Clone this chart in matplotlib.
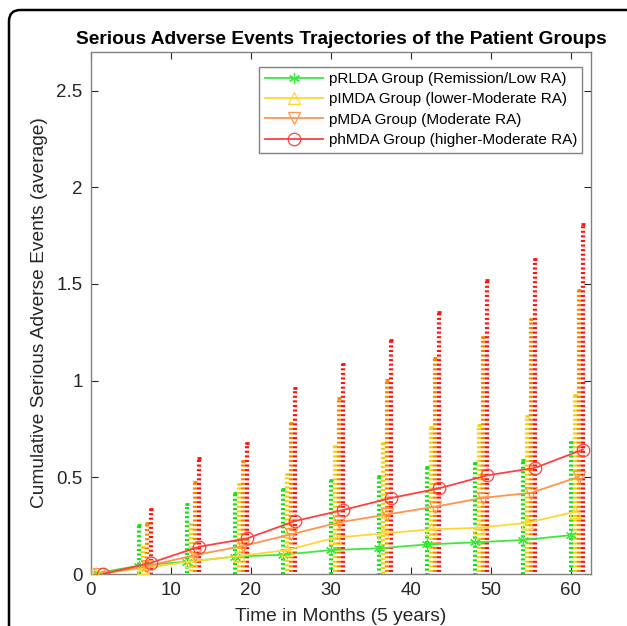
import matplotlib.pyplot as plt
from matplotlib.patches import FancyBboxPatch

plt.rcParams["font.family"] = ["Liberation Sans", "DejaVu Sans"]

months = [0, 6, 12, 18, 24, 30, 36, 42, 48, 54, 60]
groups = [
    "pRLDA Group (Remission/Low RA)",
    "pIMDA Group (lower-Moderate RA)",
    "pMDA Group (Moderate RA)",
    "phMDA Group (higher-Moderate RA)",
]

# average cumulative SAEs per group
mean_rlda = [0, 0.043, 0.064, 0.090, 0.100, 0.124, 0.133, 0.153, 0.164, 0.176, 0.201]
mean_lmda = [0, 0.030, 0.065, 0.093, 0.124, 0.188, 0.210, 0.231, 0.239, 0.265, 0.322]
mean_mda = [0, 0.040, 0.098, 0.145, 0.205, 0.267, 0.308, 0.348, 0.394, 0.420, 0.503]
mean_hmda = [0, 0.058, 0.141, 0.184, 0.274, 0.331, 0.393, 0.443, 0.510, 0.549, 0.644]

# upper end of the error bars
top_rlda = [0, 0.253, 0.362, 0.417, 0.439, 0.486, 0.508, 0.551, 0.572, 0.592, 0.683]
top_lmda = [0, 0.141, 0.257, 0.468, 0.516, 0.661, 0.678, 0.758, 0.770, 0.818, 0.925]
top_mda = [0, 0.262, 0.474, 0.585, 0.783, 0.911, 1.002, 1.119, 1.226, 1.317, 1.467]
top_hmda = [0, 0.334, 0.600, 0.678, 0.964, 1.085, 1.212, 1.355, 1.519, 1.630, 1.811]

means = [mean_rlda, mean_lmda, mean_mda, mean_hmda]
tops = [top_rlda, top_lmda, top_mda, top_hmda]
offsets = [0, 0.5, 1.0, 1.5]
line_colors = ["#3ee83e", "#ffd633", "#ff944d", "#ff4040"]
bar_colors = ["#11e011", "#ffcc00", "#ff8000", "#ff1010"]
markers = [(6, 2, 0), "^", "v", "o"]

fig = plt.figure(figsize=(6.27, 6.26), dpi=100)
ax = fig.add_axes([0.145, 0.083, 0.7975, 0.834])

# error bars first, then the mean lines on top
for m, t, off, bc in zip(means, tops, offsets, bar_colors):
    x = [mo + off for mo in months]
    err = [tt - mm for tt, mm in zip(t, m)]
    eb = ax.errorbar(x, m, yerr=err, fmt="none", ecolor=bc, elinewidth=3,
                     capsize=1.2, capthick=2, zorder=2)
    eb[2][0].set_linestyle((0, (0.5, 0.6)))

for m, off, lc, mk, name in zip(means, offsets, line_colors, markers, groups):
    x = [mo + off for mo in months]
    ms = 8 if mk == markers[0] else 9
    ax.plot(x, m, color=lc, lw=1.3, marker=mk, markersize=ms,
            markerfacecolor="none", markeredgecolor=lc, markeredgewidth=0.9,
            label=name, zorder=3)

ax.set_xlim(0, 62.5)
ax.set_ylim(0, 2.7)
ax.set_xticks([0, 10, 20, 30, 40, 50, 60])
ax.set_yticks([0, 0.5, 1, 1.5, 2, 2.5])
ax.set_yticklabels(["0", "0.5", "1", "1.5", "2", "2.5"])
ax.tick_params(direction="in", top=True, right=True, length=5, width=0.8,
               labelsize=13.5, colors="#262626", pad=6)
for s in ax.spines.values():
    s.set_color("#808080")
    s.set_linewidth(1)

ax.set_title("Serious Adverse Events Trajectories of the Patient Groups",
             fontsize=13.8, fontweight="bold", pad=6)
ax.set_xlabel("Time in Months (5 years)", fontsize=13.8, color="#262626", labelpad=6)
ax.set_ylabel("Cumulative Serious Adverse Events (average)", fontsize=13.8,
              color="#262626", labelpad=6)

leg = ax.legend(loc="upper right", bbox_to_anchor=(0.983, 0.972), fontsize=11,
                fancybox=False, framealpha=1, edgecolor="#808080",
                handlelength=3.8, labelspacing=0.42, borderpad=0.35,
                handletextpad=0.4, borderaxespad=0)
leg.get_frame().set_linewidth(1)

# rounded frame of the published figure
frame = FancyBboxPatch((9 / 627, -0.1), 640 / 627, 1.1 - 10 / 626,
                       boxstyle="round,pad=0,rounding_size=0.018",
                       transform=fig.transFigure, fill=False,
                       edgecolor="black", linewidth=1.8, clip_on=False)
fig.patches.append(frame)

fig.savefig("out.png", dpi=100)
